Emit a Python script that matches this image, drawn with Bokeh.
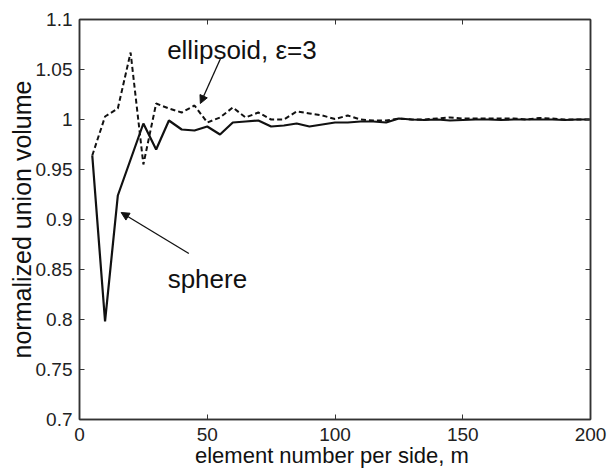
from bokeh.plotting import figure
from bokeh.models import (Range1d, LinearAxis, FixedTicker, CustomJSTickFormatter,
                          Label, Arrow, NormalHead, ColumnDataSource)
from bokeh.embed import file_html
from bokeh.resources import INLINE

# ---- data ----
m = [5, 10, 15, 20, 25, 30, 35, 40, 45, 50, 55, 60, 65, 70, 75, 80, 85, 90, 95, 100,
     105, 110, 115, 120, 125, 130, 135, 140, 145, 150, 155, 160, 165, 170, 175, 180,
     185, 190, 195, 200]
sphere = [0.964, 0.798, 0.924, 0.960, 0.996, 0.970, 0.999, 0.990, 0.989, 0.993,
          0.985, 0.997, 0.998, 0.999, 0.993, 0.994, 0.996, 0.993, 0.995, 0.997,
          0.997, 0.998, 0.998, 0.997, 1.001, 1.000, 0.9995, 1.000, 0.999, 0.9995,
          1.000, 1.000, 0.9995, 1.000, 1.000, 1.000, 1.000, 0.9995, 1.000, 1.000]
ellipsoid = [0.964, 1.003, 1.011, 1.067, 0.955, 1.016, 1.011, 1.007, 1.014, 0.997,
             1.002, 1.012, 1.002, 1.007, 1.000, 1.000, 1.008, 1.006, 1.004, 1.0005,
             1.004, 1.000, 0.999, 0.999, 1.001, 1.000, 1.000, 1.001, 1.002, 1.001,
             1.001, 1.001, 1.001, 1.001, 1.000, 1.0015, 1.001, 1.000, 1.000, 1.000]
x_ticks = [0, 50, 100, 150, 200]
y_ticks = [0.7, 0.75, 0.8, 0.85, 0.9, 0.95, 1, 1.05, 1.1]

FONT = "Liberation Sans"
AX = "#333333"
INK = "#111111"

p = figure(width=612, height=470, output_backend="svg", toolbar_location=None,
           x_range=Range1d(0, 200), y_range=Range1d(0.7, 1.1))
p.min_border_left = 79
p.min_border_right = 22
p.min_border_top = 19
p.min_border_bottom = 49
p.outline_line_color = AX
p.outline_line_width = 1.5
p.xgrid.visible = False
p.ygrid.visible = False

fmt = CustomJSTickFormatter(code="return String(Math.round(tick*1000)/1000);")
blank = CustomJSTickFormatter(code="return '';")

def style(ax, ticks, show_labels, standoff):
    ax.ticker = FixedTicker(ticks=ticks)
    ax.formatter = fmt if show_labels else blank
    ax.major_tick_in = 5
    ax.major_tick_out = 0
    ax.minor_tick_line_color = None
    ax.axis_line_color = AX
    ax.axis_line_width = 1.5
    ax.major_tick_line_color = AX
    ax.major_tick_line_width = 1
    ax.major_label_text_font = FONT
    ax.major_label_text_color = "#222222"
    ax.major_label_text_font_size = "19px"
    ax.major_label_standoff = standoff
    ax.axis_label_text_font = FONT
    ax.axis_label_text_font_style = "normal"
    ax.axis_label_text_color = INK

xa = p.xaxis[0]
ya = p.yaxis[0]
style(xa, x_ticks, True, 8)
style(ya, y_ticks, True, 7)
xa.axis_label = "element number per side,  m"
xa.axis_label_text_font_size = "22px"
xa.axis_label_standoff = -1
ya.axis_label = "normalized union volume"
ya.axis_label_text_font_size = "25px"
ya.axis_label_standoff = -3

top = LinearAxis()
style(top, x_ticks, False, 0)
right = LinearAxis()
style(right, y_ticks, False, 0)
p.add_layout(top, "above")
p.add_layout(right, "right")

src = ColumnDataSource(dict(m=m, sphere=sphere, ellipsoid=ellipsoid))
p.line("m", "ellipsoid", source=src, line_color=INK, line_width=2, line_dash="5 3")
p.line("m", "sphere", source=src, line_color=INK, line_width=2.2)

# annotations
p.add_layout(Label(x=34.3, y=1.0699, text="ellipsoid, ε=3", text_font=FONT,
                   text_font_size="26px", text_color=INK, text_baseline="alphabetic"))
p.add_layout(Label(x=34.5, y=0.841, text="sphere", text_font=FONT,
                   text_font_size="26px", text_color=INK, text_baseline="alphabetic"))
p.add_layout(Arrow(x_start=55.2, y_start=1.061, x_end=47.3, y_end=1.016,
                   line_color=INK, line_width=1.3,
                   end=NormalHead(size=8, fill_color=INK, line_color=INK)))
p.add_layout(Arrow(x_start=42.8, y_start=0.866, x_end=16.3, y_end=0.907,
                   line_color=INK, line_width=1.3,
                   end=NormalHead(size=8, fill_color=INK, line_color=INK)))

open("out.html", "w").write(file_html(p, INLINE))
